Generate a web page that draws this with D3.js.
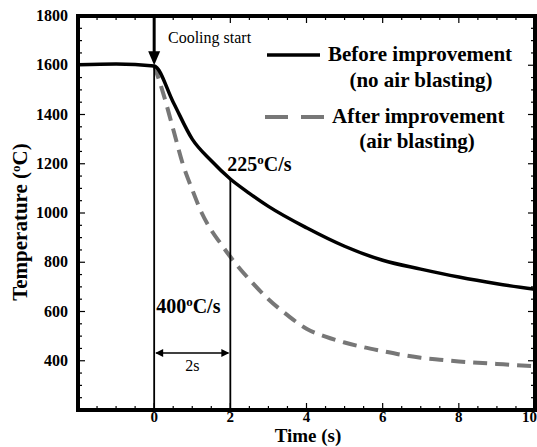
<!DOCTYPE html>
<html><head><meta charset="utf-8">
<script src="https://cdn.jsdelivr.net/npm/d3@7"></script>
</head>
<body style="margin:0;background:#fff"><svg id="c" width="537" height="447"></svg>
<script>
// ---- data ----
const timesBefore = [-2,-1,0,0.5,1,1.5,2,2.5,3,4,5,6,7,8,9,10];
const tempBefore  = [1602,1605,1597,1450,1300,1212,1138,1080,1027,940,865,808,772,740,713,690];
const timesAfter  = [0,0.25,0.5,0.75,1,1.25,1.5,1.75,2,2.5,3,3.5,4,4.5,5,5.5,6,6.5,7,7.5,8,8.5,9,9.5,10];
const tempAfter   = [1600,1480,1340,1200,1095,1000,930,875,822,730,650,585,530,498,474,455,439,424,412,404,397,392,387,382,378];
const xTickLabels = [0,2,4,6,8,10];
const yTickLabels = [400,600,800,1000,1200,1400,1600,1800];
const legendLabels = [["Before improvement","(no air blasting)"],["After improvement","(air blasting)"]];

const FONT = '"Liberation Serif"';
const svg = d3.select("#c");
const x = d3.scaleLinear().domain([-2,10]).range([78,535]);
const y = d3.scaleLinear().domain([200,1800]).range([410,16]);
const X0 = x.range()[0], X1 = x.range()[1], Y0 = y.range()[0], Y1 = y.range()[1];

function txt(sel, size, bold){
  return sel.style("font-family",FONT).style("font-size",size+"px").style("font-weight",bold?"bold":"normal");
}

// ticks (inward, all four sides)
const xMinor = d3.range(-2,10.001,0.5);
const yMinor = d3.range(200,1800.001,50);
const g = svg.append("g").attr("stroke","#000").attr("stroke-width",1.2);
xMinor.forEach(t=>{
  const major = Math.abs(t%2)<1e-6;
  const L = major?7:4;
  g.append("line").attr("x1",x(t)).attr("x2",x(t)).attr("y1",Y0).attr("y2",Y0-L);
  g.append("line").attr("x1",x(t)).attr("x2",x(t)).attr("y1",Y1).attr("y2",Y1+L);
});
yMinor.forEach(v=>{
  const major = v%200===0;
  const L = major?7:4;
  g.append("line").attr("y1",y(v)).attr("y2",y(v)).attr("x1",X0).attr("x2",X0+L);
  g.append("line").attr("y1",y(v)).attr("y2",y(v)).attr("x1",X1).attr("x2",X1-L);
});

// tick labels
txt(svg.append("g").selectAll("text").data(xTickLabels).join("text")
  .attr("x",d=>d===10?537:x(d)).attr("y",422).attr("text-anchor",d=>d===10?"end":"middle"),15,true).text(d=>d);
txt(svg.append("g").selectAll("text").data(yTickLabels).join("text")
  .attr("x",68).attr("y",d=>y(d)+5).attr("text-anchor","end"),16,true).text(d=>d);

// axis titles
txt(svg.append("text").attr("x",308).attr("y",442).attr("text-anchor","middle"),19,true).text("Time (s)");
const yt = txt(svg.append("text").attr("transform","translate(27,222) rotate(-90)")
  .attr("text-anchor","middle"),21,true);
yt.append("tspan").text("Temperature (");
yt.append("tspan").style("font-size","13px").attr("dy",-7).text("o");
yt.append("tspan").attr("dy",7).text("C)");

// curves
const line = d3.line().x(d=>x(d[0])).y(d=>y(d[1])).curve(d3.curveMonotoneX);
svg.append("path").datum(timesAfter.map((t,i)=>[t,tempAfter[i]]))
  .attr("d",line).attr("fill","none").attr("stroke","#777").attr("stroke-width",4)
  .attr("stroke-dasharray","14,8");
svg.append("path").datum(timesBefore.map((t,i)=>[t,tempBefore[i]]))
  .attr("d",line).attr("fill","none").attr("stroke","#000").attr("stroke-width",3.5);

// vertical guide lines
svg.append("line").attr("x1",x(0)).attr("x2",x(0)).attr("y1",y(1597)).attr("y2",Y0)
  .attr("stroke","#000").attr("stroke-width",1.8);
svg.append("line").attr("x1",x(2)).attr("x2",x(2)).attr("y1",y(1138)).attr("y2",Y0)
  .attr("stroke","#000").attr("stroke-width",1.8);

// cooling start arrow
svg.append("line").attr("x1",x(0)).attr("x2",x(0)).attr("y1",Y1).attr("y2",y(1600)-12)
  .attr("stroke","#000").attr("stroke-width",3);
svg.append("path").attr("d",`M${x(0)-6},${y(1600)-14} L${x(0)+6},${y(1600)-14} L${x(0)},${y(1600)} Z`)
  .attr("fill","#000");
txt(svg.append("text").attr("x",168).attr("y",43),16,false).text("Cooling start");

// rate labels
function rateLabel(tx,ty,num){
  const t = txt(svg.append("text").attr("x",tx).attr("y",ty),20,true);
  t.append("tspan").text(num);
  t.append("tspan").style("font-size","13px").attr("dy",-7).text("o");
  t.append("tspan").attr("dy",7).text("C/s");
}
rateLabel(x(2)-3,171,"225");
rateLabel(x(0)+2,313,"400");

// 2s double arrow
const ay = 353;
svg.append("line").attr("x1",x(0)+2).attr("x2",x(2)-2).attr("y1",ay).attr("y2",ay)
  .attr("stroke","#000").attr("stroke-width",1.5);
svg.append("path").attr("d",`M${x(0)+1},${ay} l8,-4 l0,8 Z M${x(2)-1},${ay} l-8,-4 l0,8 Z`).attr("fill","#000");
txt(svg.append("text").attr("x",(x(0)+x(2))/2).attr("y",371).attr("text-anchor","middle"),16,false).text("2s");

// legend
svg.append("line").attr("x1",267).attr("x2",320).attr("y1",55).attr("y2",55)
  .attr("stroke","#000").attr("stroke-width",3.5);
svg.append("line").attr("x1",265).attr("x2",325).attr("y1",117).attr("y2",117)
  .attr("stroke","#777").attr("stroke-width",4).attr("stroke-dasharray","23,13");
const lg = [[328,61,421,87],[332,123,417,148]];
legendLabels.forEach((lab,i)=>{
  txt(svg.append("text").attr("x",lg[i][0]).attr("y",lg[i][1]),21,true).text(lab[0]);
  txt(svg.append("text").attr("x",lg[i][2]).attr("y",lg[i][3]).attr("text-anchor","middle"),21,true).text(lab[1]);
});

// frame
svg.append("rect").attr("x",X0).attr("y",Y1).attr("width",X1-X0).attr("height",Y0-Y1)
  .attr("fill","none").attr("stroke","#000").attr("stroke-width",4);
</script></body></html>
